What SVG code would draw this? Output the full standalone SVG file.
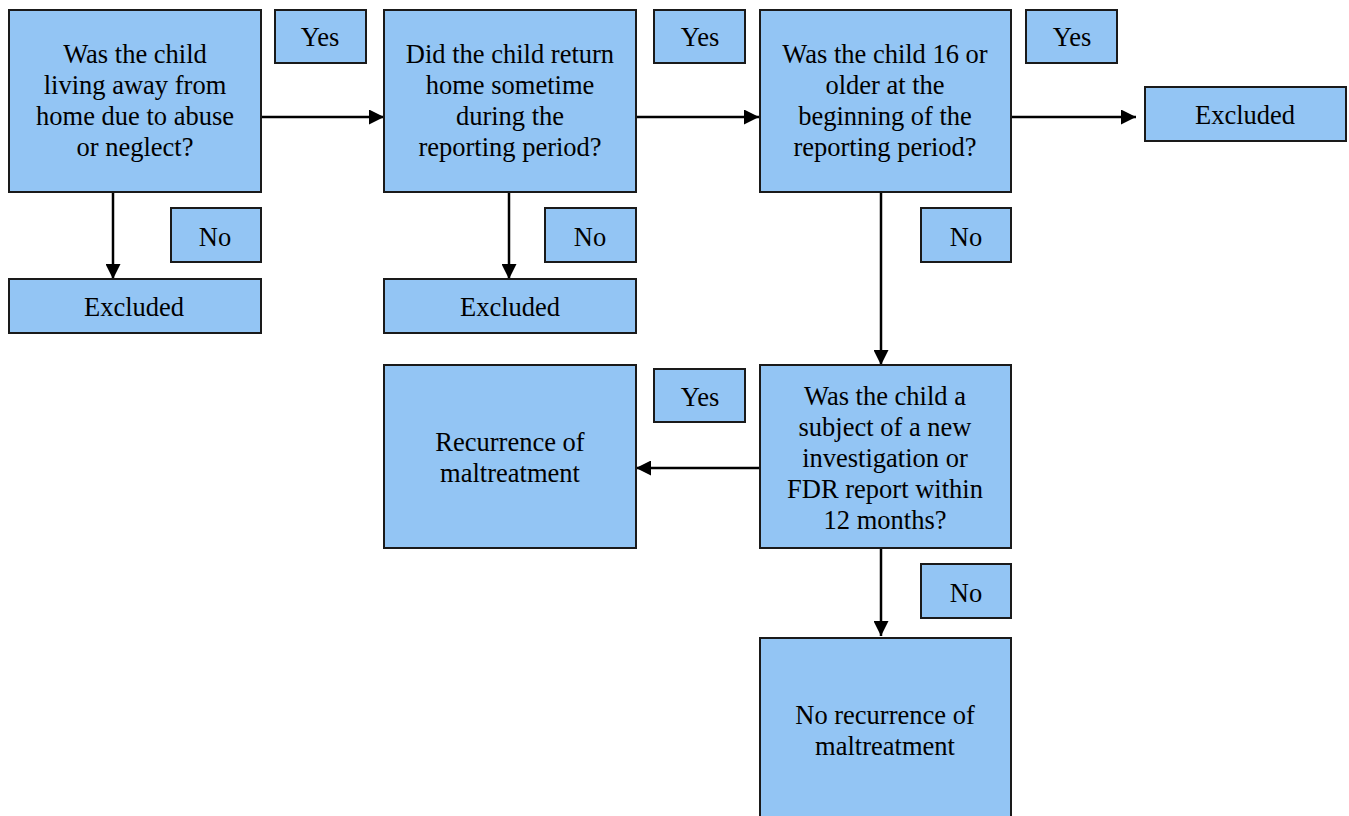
<svg xmlns="http://www.w3.org/2000/svg" width="1349" height="816" viewBox="0 0 1349 816">
<defs>
<style>
.b{fill:#93c5f4;stroke:#1a1a1a;stroke-width:2}
.t{font-family:"Liberation Serif","Times New Roman",serif;font-size:26.5px;fill:#000;text-anchor:middle}
.c{fill:none;stroke:#000;stroke-width:2.5}
</style>
<marker id="ah" viewBox="0 0 15 15" refX="15" refY="7.5" markerWidth="15" markerHeight="15" markerUnits="userSpaceOnUse" orient="auto">
<path d="M0,0 L15,7.5 L0,15 z" fill="#000"/>
</marker>
</defs>
<rect width="1349" height="816" fill="#fff"/>
<g id="connectors">
<line class="c" x1="261" y1="117" x2="384" y2="117" marker-end="url(#ah)"/>
<line class="c" x1="636" y1="117" x2="759" y2="117" marker-end="url(#ah)"/>
<line class="c" x1="1011" y1="117" x2="1136" y2="117" marker-end="url(#ah)"/>
<line class="c" x1="113" y1="192" x2="113" y2="279" marker-end="url(#ah)"/>
<line class="c" x1="509" y1="192" x2="509" y2="279" marker-end="url(#ah)"/>
<line class="c" x1="881" y1="192" x2="881" y2="365" marker-end="url(#ah)"/>
<line class="c" x1="760" y1="468" x2="636" y2="468" marker-end="url(#ah)"/>
<line class="c" x1="881" y1="548" x2="881" y2="636" marker-end="url(#ah)"/>
</g>
<g id="q1"><rect class="b" x="9" y="10" width="252" height="182"/>
<text class="t" x="135" y="63">Was the child</text><text class="t" x="135" y="94">living away from</text><text class="t" x="135" y="125">home due to abuse</text><text class="t" x="135" y="156">or neglect?</text></g>
<g id="q2"><rect class="b" x="384" y="10" width="252" height="182"/>
<text class="t" x="510" y="63">Did the child return</text><text class="t" x="510" y="94">home sometime</text><text class="t" x="510" y="125">during the</text><text class="t" x="510" y="156">reporting period?</text></g>
<g id="q3"><rect class="b" x="760" y="10" width="251" height="182"/>
<text class="t" x="885" y="63">Was the child 16 or</text><text class="t" x="885" y="94">older at the</text><text class="t" x="885" y="125">beginning of the</text><text class="t" x="885" y="156">reporting period?</text></g>
<g id="q4"><rect class="b" x="760" y="365" width="251" height="183"/>
<text class="t" x="885" y="405">Was the child a</text><text class="t" x="885" y="436">subject of a new</text><text class="t" x="885" y="467">investigation or</text><text class="t" x="885" y="498">FDR report within</text><text class="t" x="885" y="529">12 months?</text></g>
<g id="yes1"><rect class="b" x="275" y="10" width="91" height="53"/><text class="t" x="320" y="46">Yes</text></g>
<g id="yes2"><rect class="b" x="654" y="10" width="91" height="53"/><text class="t" x="700" y="46">Yes</text></g>
<g id="yes3"><rect class="b" x="1026" y="10" width="91" height="53"/><text class="t" x="1072" y="46">Yes</text></g>
<g id="yes4"><rect class="b" x="654" y="369" width="91" height="53"/><text class="t" x="700" y="406">Yes</text></g>
<g id="no1"><rect class="b" x="171" y="208" width="90" height="54"/><text class="t" x="215" y="246">No</text></g>
<g id="no2"><rect class="b" x="545" y="208" width="91" height="54"/><text class="t" x="590" y="246">No</text></g>
<g id="no3"><rect class="b" x="921" y="208" width="90" height="54"/><text class="t" x="966" y="246">No</text></g>
<g id="no4"><rect class="b" x="921" y="564" width="90" height="54"/><text class="t" x="966" y="602">No</text></g>
<g id="ex1"><rect class="b" x="9" y="279" width="252" height="54"/><text class="t" x="134" y="316">Excluded</text></g>
<g id="ex2"><rect class="b" x="384" y="279" width="252" height="54"/><text class="t" x="510" y="316">Excluded</text></g>
<g id="ex3"><rect class="b" x="1145" y="87" width="201" height="54"/><text class="t" x="1245" y="124">Excluded</text></g>
<g id="rec"><rect class="b" x="384" y="365" width="252" height="183"/>
<text class="t" x="510" y="451">Recurrence of</text><text class="t" x="510" y="482">maltreatment</text></g>
<g id="norec"><rect class="b" x="760" y="638" width="251" height="190"/>
<text class="t" x="885" y="724">No recurrence of</text><text class="t" x="885" y="755">maltreatment</text></g>
</svg>
